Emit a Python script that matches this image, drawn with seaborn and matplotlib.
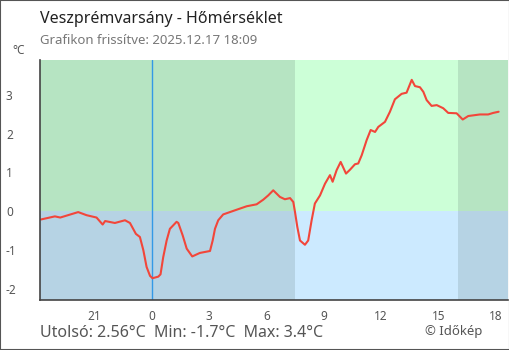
import matplotlib
matplotlib.use("Agg")
import matplotlib.pyplot as plt
import seaborn as sns
import pandas as pd
from matplotlib.patches import Rectangle

# ---- data (hours relative to midnight of 2025-12-17) ----
hours = [-5.81, -5.08, -4.8, -3.86, -3.42, -2.9, -2.58, -2.45, -1.94, -1.41, -1.15,
         -0.84, -0.63, -0.45, -0.28, -0.10, 0.03, 0.33, 0.45, 0.59, 0.77, 0.94,
         1.29, 1.38, 1.61, 1.82, 2.11, 2.51, 3.04, 3.18, 3.30, 3.47, 3.73, 4.08,
         4.43, 4.96, 5.48, 5.83, 6.09, 6.35, 6.70, 6.96, 7.23, 7.40, 7.49, 7.61,
         7.75, 8.01, 8.18, 8.36, 8.53, 8.80, 9.06, 9.32, 9.46, 9.67, 9.88, 10.16,
         10.37, 10.63, 10.80, 10.98, 11.24, 11.45, 11.68, 11.85, 12.20, 12.46,
         12.72, 13.07, 13.33, 13.60, 13.77, 14.03, 14.21, 14.38, 14.64, 14.91,
         15.25, 15.51, 15.95, 16.27, 16.56, 17.17, 17.60, 17.87, 18.15]
temps = [-0.21, -0.13, -0.16, -0.02, -0.10, -0.16, -0.34, -0.25, -0.30, -0.23, -0.30,
         -0.58, -0.66, -1.00, -1.43, -1.66, -1.72, -1.68, -1.62, -1.18, -0.75, -0.45,
         -0.27, -0.30, -0.62, -0.96, -1.16, -1.07, -1.02, -0.75, -0.45, -0.23, -0.08, -0.02,
         0.04, 0.13, 0.18, 0.30, 0.41, 0.54, 0.37, 0.31, 0.34, 0.24, -0.02, -0.40,
         -0.75, -0.86, -0.75, -0.23, 0.20, 0.41, 0.71, 0.93, 0.76, 1.06, 1.27, 0.97,
         1.07, 1.21, 1.23, 1.44, 1.83, 2.09, 2.04, 2.17, 2.30, 2.56,
         2.88, 3.02, 3.05, 3.38, 3.22, 3.19, 3.07, 2.86, 2.71, 2.73,
         2.65, 2.53, 2.52, 2.36, 2.45, 2.49, 2.49, 2.53, 2.56]
sunrise = 7.5
sunset = 16.0
x_ticks = [-3, 0, 3, 6, 9, 12, 15, 18]
x_tick_labels = ["21", "0", "3", "6", "9", "12", "15", "18"]
y_ticks = [3, 2, 1, 0, -1, -2]
title = "Veszprémvarsány - Hőmérséklet"
subtitle = "Grafikon frissítve: 2025.12.17 18:09"
footer = "Utolsó: 2.56°C  Min: -1.7°C  Max: 3.4°C"
credit = "© Időkép"

df = pd.DataFrame({"hour": hours, "temp": temps})

sns.set_theme(style="white")
plt.rcParams["font.family"] = ["Noto Sans", "DejaVu Sans"]

W, H = 510, 350
fig = plt.figure(figsize=(W / 100, H / 100), dpi=100)
ax = fig.add_axes([40 / W, 1 - 300 / H, (508 - 40) / W, (300 - 60) / H])

xmin, xmax = -5.86, 18.64
ymin, ymax = -2.28, 3.89
ax.set_xlim(xmin, xmax)
ax.set_ylim(ymin, ymax)

night_up, day_up = "#b6e4c2", "#ccffd7"
night_dn, day_dn = "#b6d3e4", "#cceaff"
for x0, x1, cu, cd in [(xmin, sunrise, night_up, night_dn),
                       (sunrise, sunset, day_up, day_dn),
                       (sunset, xmax, night_up, night_dn)]:
    ax.add_patch(Rectangle((x0, 0), x1 - x0, ymax, color=cu, lw=0, zorder=0))
    ax.add_patch(Rectangle((x0, ymin), x1 - x0, -ymin, color=cd, lw=0, zorder=0))

ax.axvline(0, color="#3399e6", lw=1.0, zorder=1)
sns.lineplot(data=df, x="hour", y="temp", ax=ax, color="#f2463a", lw=1.5, zorder=3)

ax.set_xlabel("")
ax.set_ylabel("")
ax.set_xticks(x_ticks)
ax.set_xticklabels(x_tick_labels)
ax.set_yticks(y_ticks)
ax.set_yticklabels([str(v) for v in y_ticks])

for s in ["top", "right"]:
    ax.spines[s].set_visible(False)
for s in ["left", "bottom"]:
    ax.spines[s].set_color("#444444")
    ax.spines[s].set_linewidth(1.2)
    ax.spines[s].set_zorder(5)

ax.tick_params(axis="both", direction="inout", length=9, width=1.0,
               color="#444444", labelcolor="#555555", labelsize=8.5)
ax.tick_params(axis="x", pad=3)
for lab in ax.get_yticklabels():
    lab.set_horizontalalignment("left")
ax.tick_params(axis="y", pad=(40 - 6) * 0.72 - 4.5)

fig.text(40 / W, 1 - 19 / H, title, fontsize=11.5, color="#222222", va="center", ha="left")
fig.text(40 / W, 1 - 41 / H, subtitle, fontsize=9.5, color="#777777", va="center", ha="left")
fig.text(12 / W, 1 - 50 / H, "°C", fontsize=8.5, color="#555555", va="center", ha="left")
fig.text(40 / W, 1 - 333 / H, footer, fontsize=11.5, color="#555555", va="center", ha="left")
fig.text(425 / W, 1 - 331 / H, credit, fontsize=9.5, color="#555555", va="center", ha="left")

fig.add_artist(Rectangle((0, 0), 1, 1, transform=fig.transFigure, fill=False,
                         edgecolor="#555555", lw=1.5))

fig.savefig("out.png", dpi=100)
